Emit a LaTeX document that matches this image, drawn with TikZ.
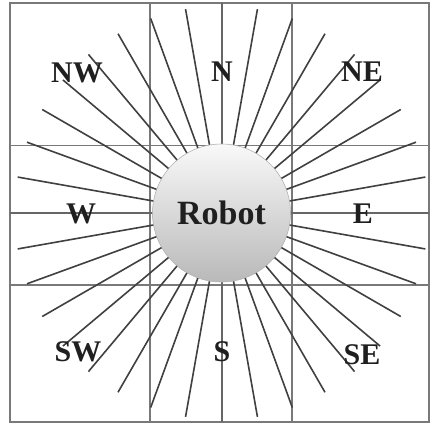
\documentclass[tikz,border=0pt]{standalone}
\usepackage{fontspec}
\setmainfont{Liberation Serif}
\begin{document}
\begin{tikzpicture}[x=1pt,y=1pt,
  gridline/.style={draw=gray!95!black, line width=1.9pt},
  axisline/.style={draw=gray!80!black, line width=2.1pt},
  ray/.style={draw=black!75, line width=1.6pt},
  dirlabel/.style={text=black!88, font=\fontsize{30}{30}\selectfont\bfseries, inner sep=0pt},
  robotbody/.style={circle, minimum size=138pt, inner sep=0pt, draw=gray!60, line width=0.6pt,
    top color=gray!5, bottom color=gray!55, shading angle=0,
    font=\fontsize{34}{34}\selectfont\bfseries, text=black!88}]
\useasboundingbox (0,0) rectangle (431,424);
% outer frame and 3x3 sector grid
\draw[gridline] (10,2) rectangle (429,421);
\draw[gridline] (150,2) -- (150,421);
\draw[gridline] (292,2) -- (292,421);
\draw[gridline] (10,278.5) -- (429,278.5);
\draw[gridline] (10,139) -- (429,139);
% main axes through the robot
\draw[axisline] (222,2) -- (222,421);
\draw[axisline] (10,211) -- (429,211);
% robot body
\node[robotbody] (robot) at (221.5,211) {Robot};
% sensing rays every 10 degrees
\foreach \a in {10,20,...,80,100,110,...,170,190,200,...,260,280,290,...,350}
  \draw[ray] (robot.\a) -- ([shift={(\a:207)}]robot.center);
% sector names
\node[dirlabel] (nw) at (77,351.5) {NW};
\node[dirlabel] (n)  at (222,352) {N};
\node[dirlabel] (ne) at (362,352) {NE};
\node[dirlabel] (w)  at (81,210) {W};
\node[dirlabel] (e)  at (363,210) {E};
\node[dirlabel] (sw) at (78,72) {SW};
\node[dirlabel] (s)  at (222,72) {S};
\node[dirlabel] (se) at (362,69) {SE};
\end{tikzpicture}
\end{document}
